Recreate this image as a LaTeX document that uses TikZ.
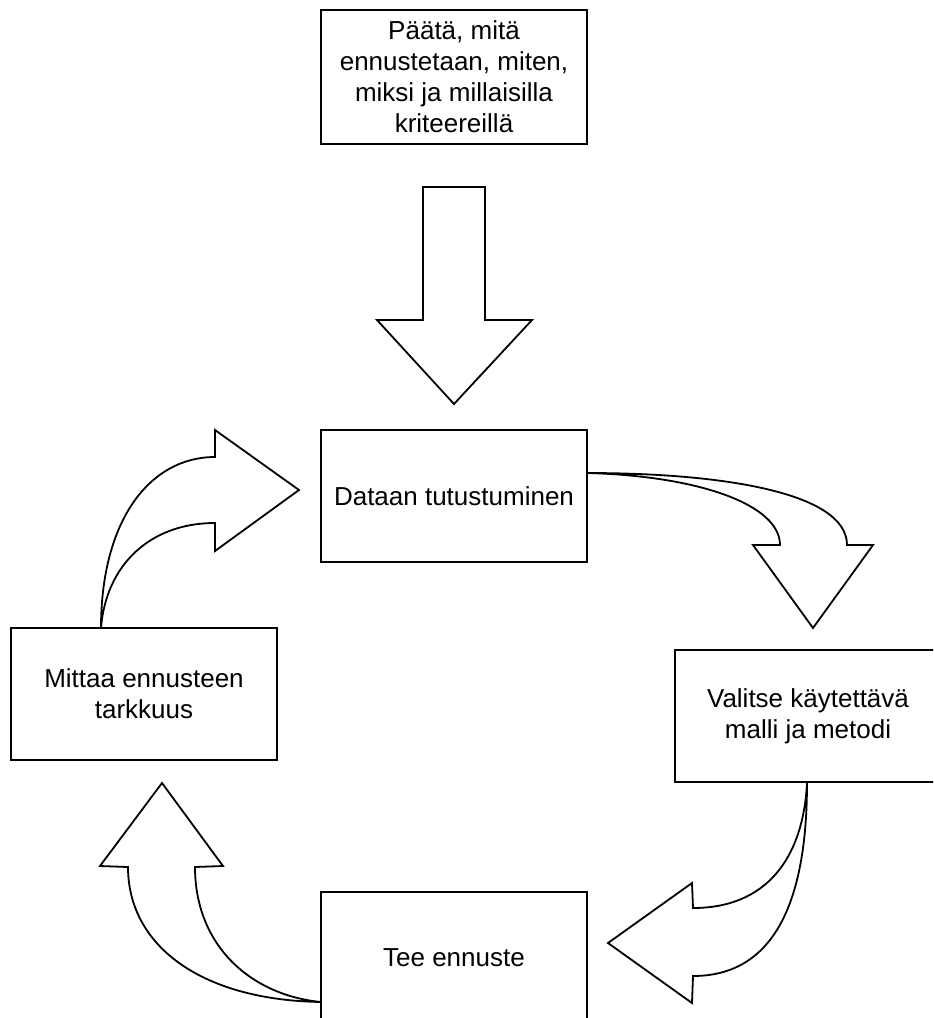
\documentclass[tikz,border=0pt]{standalone}
\usepackage{fontspec}
\setmainfont{Liberation Sans}
\usepackage{xcolor}

\begin{document}
\begin{tikzpicture}[
  x=0.5pt, y=-0.5pt,
  font=\fontsize{13pt}{15.5pt}\selectfont,
  stepbox/.style={draw=black, line width=0.9pt, fill=white, align=center,
    minimum width=133pt, minimum height=66pt, inner sep=0pt},
  blockarrow/.style={draw=black, line width=0.9pt, fill=white, line join=miter}
]
\useasboundingbox (0,0) rectangle (933,1018);
\clip (0,0) rectangle (933,1018);

% boxes
\node[stepbox, minimum height=67pt] (paata) at (454,77) {Päätä, mitä\\ennustetaan, miten,\\miksi ja millaisilla\\kriteereillä};
\node[stepbox] (data) at (454,496) {Dataan tutustuminen};
\node[stepbox] (valitse) at (808,716) {Valitse käytettävä\\malli ja metodi};
\node[stepbox] (tee) at (454,958) {Tee ennuste};
\node[stepbox] (mittaa) at (144,694) {Mittaa ennusteen\\tarkkuus};

% straight block arrow
\draw[blockarrow] (423,187) -- (485,187) -- (485,320) -- (532,320)
  -- (454,404) -- (377,320) -- (423,320) -- cycle;

% curved block arrows round the cycle
\draw[blockarrow] (587,473) .. controls (720,473) and (847,492) .. (847,545)
  -- (873,545) -- (813,628) -- (753,545) -- (780,545)
  .. controls (780,505) and (700,476) .. (587,473) -- cycle;
\draw[blockarrow] (807,783) .. controls (807,900) and (775,976) .. (693,976)
  -- (692,1003) -- (608,943) -- (692,883) -- (693,908)
  .. controls (765,908) and (803,860) .. (807,783) -- cycle;
\draw[blockarrow] (321,1002) .. controls (200,1000) and (128,945) .. (128,867)
  -- (100,866) -- (162,783) -- (223,866) -- (195,867)
  .. controls (195,945) and (250,995) .. (321,1002) -- cycle;
\draw[blockarrow] (101,628) .. controls (101,520) and (150,457) .. (215,457)
  -- (215,430) -- (299,490) -- (215,551) -- (215,523)
  .. controls (150,523) and (106,565) .. (101,628) -- cycle;
\end{tikzpicture}
\end{document}
